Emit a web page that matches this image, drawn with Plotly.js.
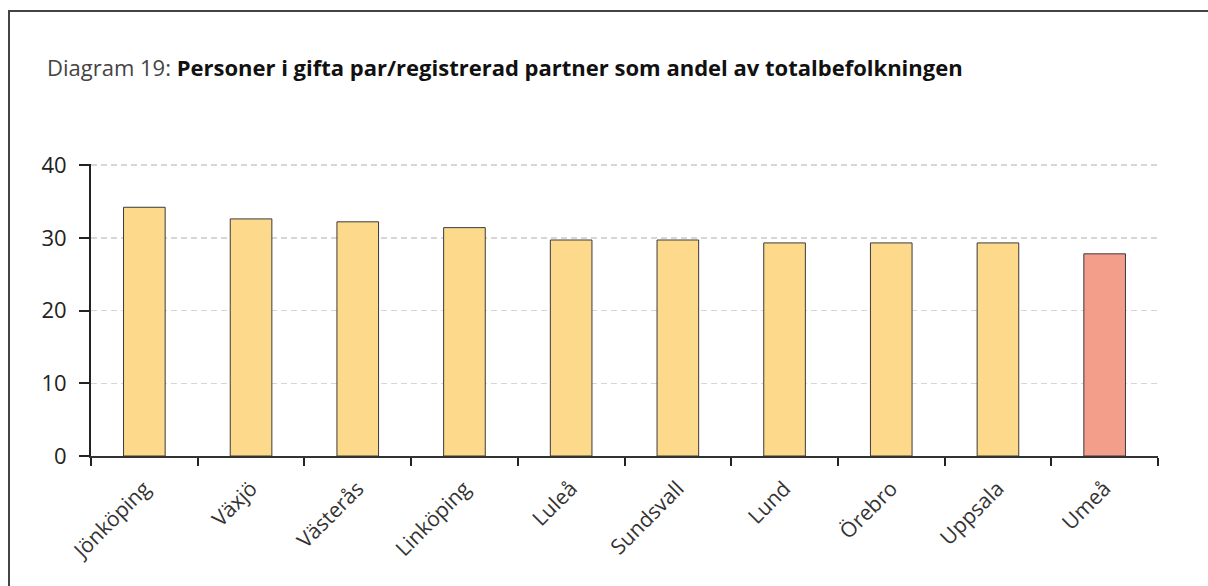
<!DOCTYPE html>
<html>
<head>
<meta charset="utf-8">
<script src="https://cdn.plot.ly/plotly-3.0.1.min.js"></script>
<style>
  html, body { margin: 0; padding: 0; background: #fff; }
  #wrap { position: relative; width: 1208px; height: 586px; overflow: hidden; }
  #frame { position: absolute; left: 8px; top: 10px; width: 1300px; height: 700px;
           border-top: 2px solid #444; border-left: 2px solid #444; pointer-events: none; z-index: 5; }
  #chart { position: absolute; left: 0; top: 0; width: 1208px; height: 586px; }
</style>
</head>
<body>
<div id="wrap">
  <div id="chart"></div>
  <div id="frame"></div>
</div>
<script>
const categories = ["Jönköping", "Växjö", "Västerås", "Linköping", "Luleå", "Sundsvall", "Lund", "Örebro", "Uppsala", "Umeå"];
const values = [34.2, 32.6, 32.2, 31.4, 29.7, 29.7, 29.3, 29.3, 29.3, 27.8];
const barColors = ["#FDDA8B", "#FDDA8B", "#FDDA8B", "#FDDA8B", "#FDDA8B", "#FDDA8B", "#FDDA8B", "#FDDA8B", "#FDDA8B", "#F29E8B"];
const yTicks = [0, 10, 20, 30, 40];

const trace = {
  type: "bar",
  x: categories,
  y: values,
  width: 0.39,
  marker: { color: barColors, line: { color: "#3a3a3a", width: 1 } },
  hoverinfo: "x+y"
};

const layout = {
  width: 1208,
  height: 586,
  margin: { l: 91, r: 50, t: 164, b: 130 },
  paper_bgcolor: "#ffffff",
  plot_bgcolor: "#ffffff",
  showlegend: false,
  title: {
    text: "<span style='color:#444'>Diagram 19: </span><b>Personer i gifta par/registrerad partner som andel av totalbefolkningen</b>",
    font: { family: "Open Sans, Noto Sans, sans-serif", size: 22, color: "#111" },
    xref: "container", yref: "container",
    x: 47 / 1208, xanchor: "left",
    y: 1 - 68 / 586, yanchor: "middle"
  },
  xaxis: {
    type: "category",
    tickson: "boundaries",
    ticks: "outside",
    ticklen: 8,
    tickwidth: 2,
    tickcolor: "#222",
    showline: true,
    linecolor: "#333",
    linewidth: 2,
    showgrid: false,
    tickangle: -45,
    ticklabelstandoff: 10,
    tickfont: { family: "Open Sans, sans-serif", size: 21, color: "#333" },
    fixedrange: true
  },
  yaxis: {
    range: [0, 40.15],
    tickvals: yTicks,
    ticktext: yTicks.map(String),
    ticks: "outside",
    ticklen: 10,
    tickwidth: 2,
    tickcolor: "#222",
    showline: true,
    linecolor: "#222",
    linewidth: 2,
    showgrid: true,
    gridcolor: "#d6d6d6",
    gridwidth: 1.5,
    griddash: "6px,4px",
    zeroline: false,
    ticklabelstandoff: 8,
    tickfont: { family: "Open Sans, sans-serif", size: 22, color: "#222" },
    fixedrange: true
  }
};

Plotly.newPlot("chart", [trace], layout, { displayModeBar: false, staticPlot: true });
</script>
</body>
</html>
